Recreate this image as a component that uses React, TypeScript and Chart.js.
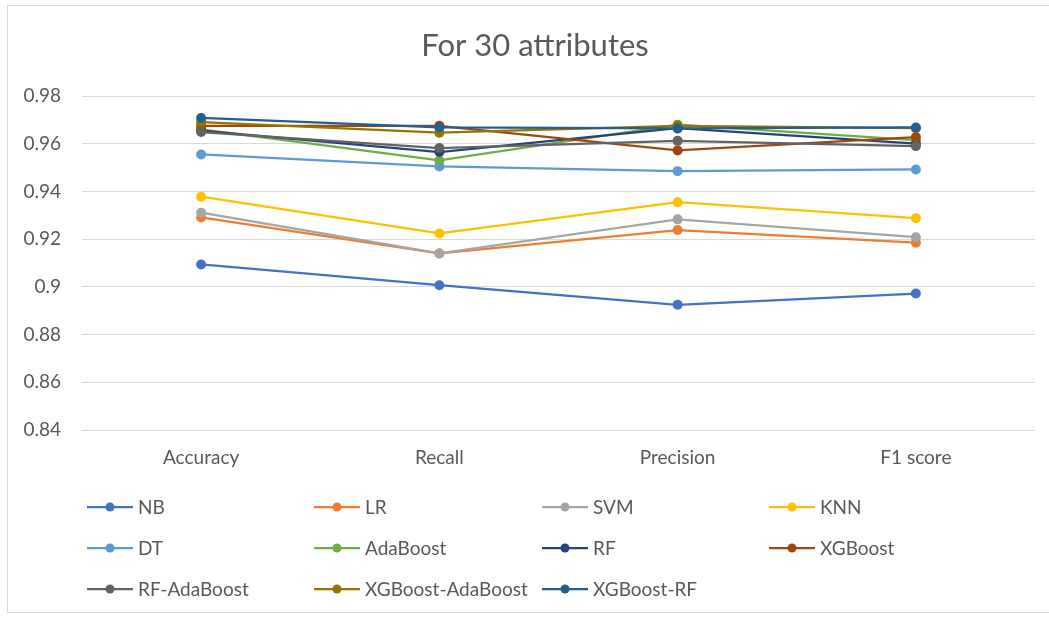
import React, { useEffect, useRef } from "react";
import { Chart, registerables } from "chart.js";

Chart.register(...registerables);

const categories = ["Accuracy", "Recall", "Precision", "F1 score"];

const nb = [0.9094, 0.9007, 0.8925, 0.8972];
const lr = [0.9291, 0.914, 0.9238, 0.9185];
const svm = [0.9311, 0.914, 0.9283, 0.9208];
const knn = [0.9378, 0.9224, 0.9355, 0.9288];
const dt = [0.9555, 0.9505, 0.9485, 0.9492];
const adaBoost = [0.966, 0.953, 0.968, 0.9615];
const rf = [0.9655, 0.9565, 0.9665, 0.96];
const xgBoost = [0.9675, 0.9675, 0.9572, 0.9628];
const rfAdaBoost = [0.9649, 0.9582, 0.9612, 0.959];
const xgBoostAdaBoost = [0.969, 0.9646, 0.9675, 0.9665];
const xgBoostRf = [0.9708, 0.9668, 0.9664, 0.9668];

const seriesNames = [
  "NB", "LR", "SVM", "KNN", "DT", "AdaBoost", "RF", "XGBoost",
  "RF-AdaBoost", "XGBoost-AdaBoost", "XGBoost-RF",
];
const seriesValues = [
  nb, lr, svm, knn, dt, adaBoost, rf, xgBoost, rfAdaBoost, xgBoostAdaBoost, xgBoostRf,
];
const seriesColors = [
  "#4472C4", "#ED7D31", "#A5A5A5", "#FFC000", "#5B9BD5", "#70AD47",
  "#264478", "#9E480E", "#636363", "#997300", "#255E91",
];

const yTicks = [0.84, 0.86, 0.88, 0.9, 0.92, 0.94, 0.96, 0.98];

const FONT = "Lato, 'Open Sans', sans-serif";
const TEXT = "#595959";

const titleAndLegend = {
  id: "titleAndLegend",
  afterDraw(chart: any) {
    const ctx = chart.ctx as CanvasRenderingContext2D;
    ctx.save();
    ctx.fillStyle = TEXT;
    ctx.font = `31px ${FONT}`;
    ctx.textAlign = "center";
    ctx.textBaseline = "middle";
    ctx.fillText("For 30 attributes", 535, 46);

    const colX = [87, 314, 542, 769];
    const rowY = [507, 548, 589];
    chart.data.datasets.forEach((ds: any, i: number) => {
      const x = colX[i % 4];
      const y = rowY[Math.floor(i / 4)];
      ctx.strokeStyle = ds.borderColor;
      ctx.lineWidth = 2.25;
      ctx.beginPath();
      ctx.moveTo(x, y);
      ctx.lineTo(x + 46, y);
      ctx.stroke();
      ctx.fillStyle = ds.backgroundColor;
      ctx.beginPath();
      ctx.arc(x + 23, y, 4.5, 0, Math.PI * 2);
      ctx.fill();
      ctx.fillStyle = TEXT;
      ctx.font = `19px ${FONT}`;
      ctx.textAlign = "left";
      ctx.textBaseline = "middle";
      ctx.fillText(ds.label, x + 51, y + 1);
    });
    ctx.restore();
  },
};

export default function App() {
  const canvasRef = useRef<HTMLCanvasElement | null>(null);

  useEffect(() => {
    document.body.style.margin = "0";
    const canvas = canvasRef.current;
    if (!canvas) return;
    const chart = new Chart(canvas, {
      type: "line",
      data: {
        labels: categories,
        datasets: seriesNames.map((name, i) => ({
          label: name,
          data: seriesValues[i],
          borderColor: seriesColors[i],
          backgroundColor: seriesColors[i],
          pointBackgroundColor: seriesColors[i],
          pointBorderColor: seriesColors[i],
          pointRadius: 5,
          pointBorderWidth: 0,
          borderWidth: 2.25,
          tension: 0,
          order: seriesNames.length - i,
        })),
      },
      options: {
        responsive: false,
        animation: false,
        layout: { padding: { top: 96, left: 0, right: 14, bottom: 138 } },
        plugins: {
          legend: { display: false },
          title: { display: false },
          tooltip: { enabled: false },
        },
        scales: {
          x: {
            offset: true,
            grid: { display: false, drawTicks: false },
            border: { display: false },
            ticks: { color: TEXT, font: { family: FONT, size: 19 }, padding: 16 },
            afterFit: (scale: any) => {
              scale.height = 50;
            },
          },
          y: {
            min: 0.84,
            max: 0.98,
            grid: { color: "#D9D9D9", lineWidth: 1, drawTicks: false },
            border: { display: false },
            afterBuildTicks: (scale: any) => {
              scale.ticks = yTicks.map((v) => ({ value: v }));
            },
            afterFit: (scale: any) => {
              scale.width = 82;
            },
            ticks: {
              color: TEXT,
              font: { family: FONT, size: 19 },
              padding: 21,
              callback: (v: any) => String(Math.round(Number(v) * 100) / 100),
            },
          },
        },
      },
      plugins: [titleAndLegend],
    });
    return () => chart.destroy();
  }, []);

  return (
    <div style={{ position: "relative", width: 1049, height: 618, background: "#fff" }}>
      <canvas ref={canvasRef} width={1049} height={618} style={{ display: "block" }} />
      <div
        style={{
          position: "absolute",
          left: 7,
          top: 5,
          width: 1050,
          height: 606,
          border: "1px solid #D9D9D9",
          pointerEvents: "none",
        }}
      />
    </div>
  );
}
